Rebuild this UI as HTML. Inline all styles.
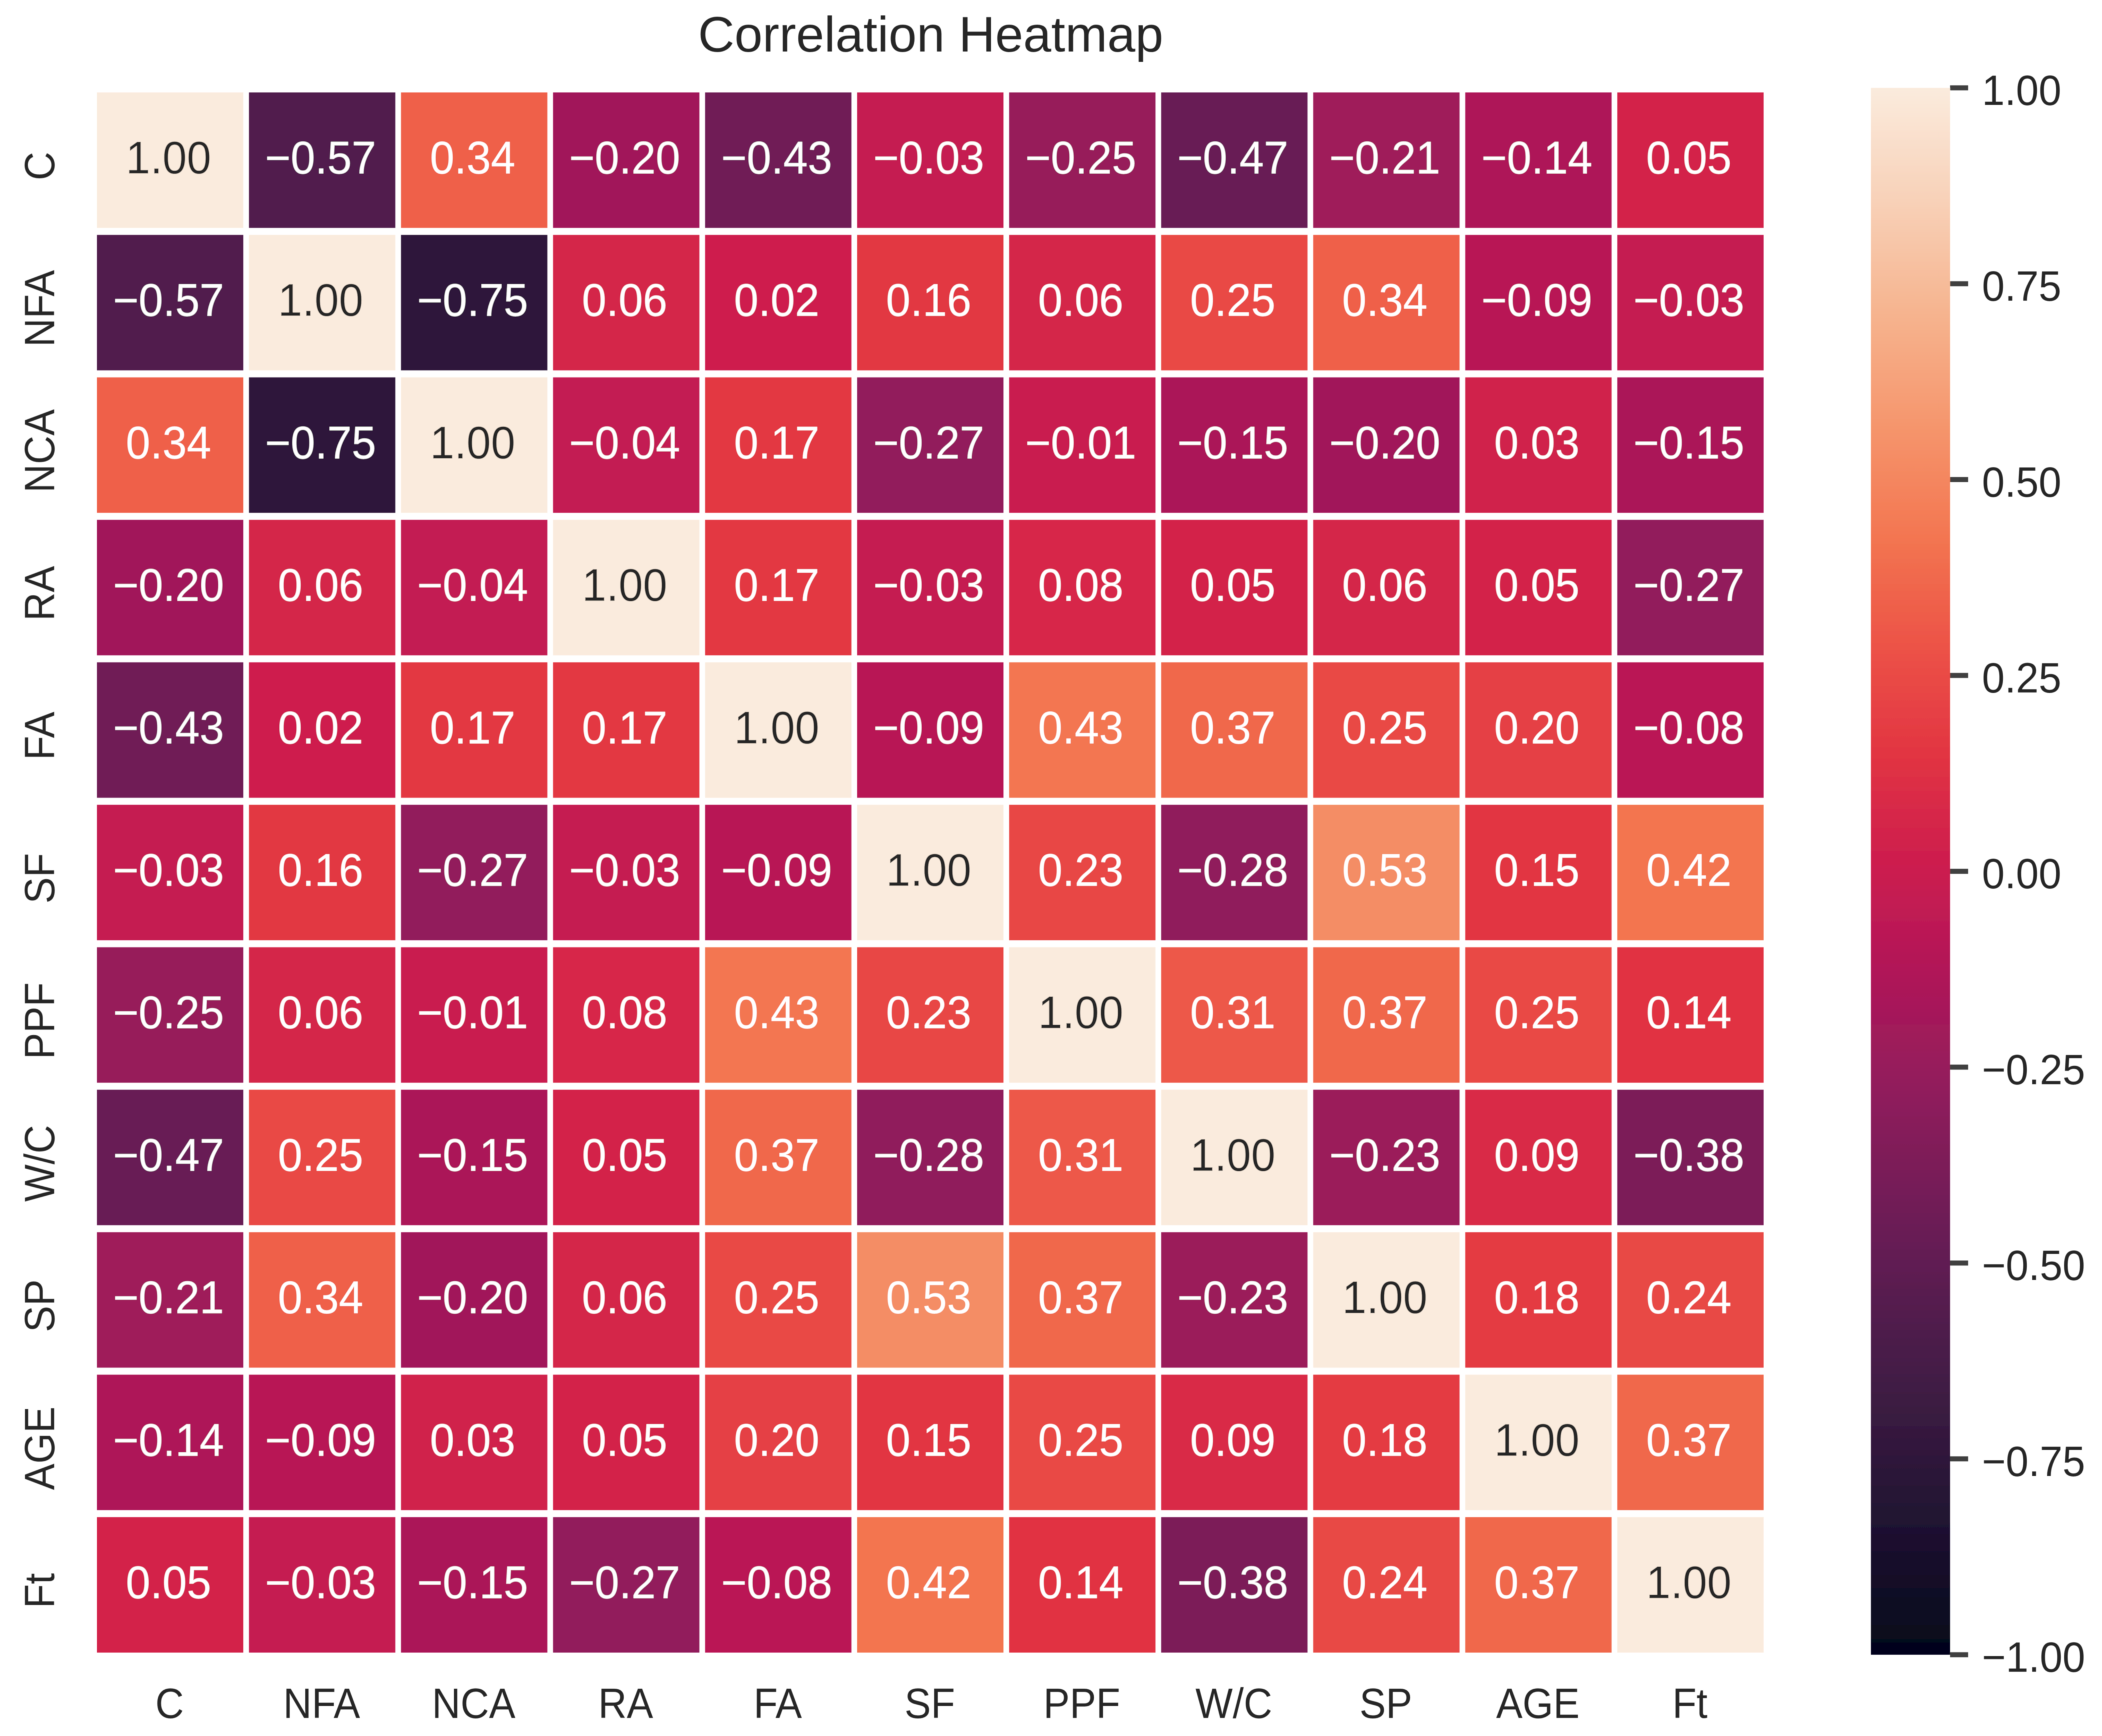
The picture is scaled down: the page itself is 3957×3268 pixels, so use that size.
<!DOCTYPE html>
<html lang="en">
<head>
<meta charset="utf-8">
<title>Correlation Heatmap</title>
<style>
  html, body { margin: 0; padding: 0; background: #ffffff; }
  #chart { display: block; width: 3957px; height: 3268px; font-family: "Liberation Sans", Arial, sans-serif; }
</style>
</head>
<body>
<svg id="chart" xmlns="http://www.w3.org/2000/svg" width="3957" height="3268" viewBox="0 0 3957 3268">
  <defs>
    <linearGradient id="rocket-gradient" x1="0" y1="1" x2="0" y2="0"></linearGradient>
    <filter id="soft" x="-5%" y="-5%" width="110%" height="110%"><feGaussianBlur stdDeviation="0.9"></feGaussianBlur></filter>
  </defs>
  <rect x="0" y="0" width="3957" height="3268" fill="#ffffff"></rect>
  <text x="0" y="0" transform="translate(1752 97) scale(1.01 1)" font-size="94" fill="#262626" text-anchor="middle" filter="url(#soft)">Correlation Heatmap</text>
  <g id="cells" filter="url(#soft)"></g>
  <g id="x-axis" filter="url(#soft)"></g>
  <g id="y-axis" filter="url(#soft)"></g>
  <g id="colorbar" filter="url(#soft)"></g>
</svg>
<script>
const categories = ["C", "NFA", "NCA", "RA", "FA", "SF", "PPF", "W/C", "SP", "AGE", "Ft"];
const rowC   = [1.00, -0.57, 0.34, -0.20, -0.43, -0.03, -0.25, -0.47, -0.21, -0.14, 0.05];
const rowNFA = [-0.57, 1.00, -0.75, 0.06, 0.02, 0.16, 0.06, 0.25, 0.34, -0.09, -0.03];
const rowNCA = [0.34, -0.75, 1.00, -0.04, 0.17, -0.27, -0.01, -0.15, -0.20, 0.03, -0.15];
const rowRA  = [-0.20, 0.06, -0.04, 1.00, 0.17, -0.03, 0.08, 0.05, 0.06, 0.05, -0.27];
const rowFA  = [-0.43, 0.02, 0.17, 0.17, 1.00, -0.09, 0.43, 0.37, 0.25, 0.20, -0.08];
const rowSF  = [-0.03, 0.16, -0.27, -0.03, -0.09, 1.00, 0.23, -0.28, 0.53, 0.15, 0.42];
const rowPPF = [-0.25, 0.06, -0.01, 0.08, 0.43, 0.23, 1.00, 0.31, 0.37, 0.25, 0.14];
const rowWC  = [-0.47, 0.25, -0.15, 0.05, 0.37, -0.28, 0.31, 1.00, -0.23, 0.09, -0.38];
const rowSP  = [-0.21, 0.34, -0.20, 0.06, 0.25, 0.53, 0.37, -0.23, 1.00, 0.18, 0.24];
const rowAGE = [-0.14, -0.09, 0.03, 0.05, 0.20, 0.15, 0.25, 0.09, 0.18, 1.00, 0.37];
const rowFt  = [0.05, -0.03, -0.15, -0.27, -0.08, 0.42, 0.14, -0.38, 0.24, 0.37, 1.00];
const matrix = [rowC, rowNFA, rowNCA, rowRA, rowFA, rowSF, rowPPF, rowWC, rowSP, rowAGE, rowFt];
const colorbarTicks = [1.00, 0.75, 0.50, 0.25, 0.00, -0.25, -0.50, -0.75, -1.00];

const NS = "http://www.w3.org/2000/svg";
const PLOT = { left: 182.5, top: 174, pitchX: 286.2, pitchY: 268.2, cellW: 275.5, cellH: 255 };
const BAR = { left: 3522, right: 3671, top: 165.4, bottom: 3115, min: -1, max: 1 };

const ROCKET_POS = [0, 0.0714, 0.1429, 0.2143, 0.2857, 0.3571, 0.4286, 0.5, 0.5714, 0.6429, 0.7143, 0.7857, 0.8571, 0.9286, 1];
const ROCKET_HEX = ["#03051a", "#1b102e", "#35193e", "#511e4d", "#701f57", "#8f1d5b", "#ad1759", "#cb1b4f", "#e13342", "#ec5246", "#f37651", "#f5966d", "#f6b48f", "#f8d1b8", "#faebdd"];

function hexToRgb(h) {
  return [parseInt(h.slice(1, 3), 16), parseInt(h.slice(3, 5), 16), parseInt(h.slice(5, 7), 16)];
}
function colorAt(value) {
  const t = Math.max(0, Math.min(1, (value - BAR.min) / (BAR.max - BAR.min)));
  let k = 0;
  while (k < ROCKET_POS.length - 2 && t > ROCKET_POS[k + 1]) k++;
  const f = (t - ROCKET_POS[k]) / (ROCKET_POS[k + 1] - ROCKET_POS[k]);
  const a = hexToRgb(ROCKET_HEX[k]);
  const b = hexToRgb(ROCKET_HEX[k + 1]);
  return [0, 1, 2].map(function (n) { return Math.round(a[n] + (b[n] - a[n]) * f); });
}
function luminance(rgb) {
  const c = rgb.map(function (v) {
    const s = v / 255;
    return s <= 0.03928 ? s / 12.92 : Math.pow((s + 0.055) / 1.055, 2.4);
  });
  return 0.2126 * c[0] + 0.7152 * c[1] + 0.0722 * c[2];
}
function fmt(v) {
  const s = Math.abs(v).toFixed(2);
  return v < 0 ? "\u2212" + s : s;
}
function xScale(i) { return PLOT.left + PLOT.pitchX * i; }
function yScale(i) { return PLOT.top + PLOT.pitchY * i; }
function barY(v) { return BAR.bottom - (v - BAR.min) / (BAR.max - BAR.min) * (BAR.bottom - BAR.top); }
function make(tag, attrs, parent, txt) {
  const el = document.createElementNS(NS, tag);
  Object.keys(attrs).forEach(function (k) { el.setAttribute(k, attrs[k]); });
  if (txt !== undefined) el.textContent = txt;
  parent.appendChild(el);
  return el;
}

const cellsG = document.getElementById("cells");
matrix.forEach(function (row, r) {
  row.forEach(function (value, c) {
    const rgb = colorAt(value);
    const rect = make("rect", { x: xScale(c), y: yScale(r), width: PLOT.cellW, height: PLOT.cellH, fill: "rgb(" + rgb.join(",") + ")" }, cellsG);
    
    
    const cx = xScale(c) + PLOT.cellW / 2 - 3;
    const cy = yScale(r) + PLOT.cellH / 2 + 25;
    const label = make("text", {
      x: 0,
      y: 0,
      transform: "translate(" + cx + " " + cy + ") scale(0.96 1)",
      "font-size": 86,
      "text-anchor": "middle",
      fill: luminance(rgb) < 0.408 ? "#ffffff" : "#262626"
    }, cellsG, fmt(value));
    
    
  });
});

const xAxisG = document.getElementById("x-axis");
categories.forEach(function (name, i) {
  const cx = xScale(i) + PLOT.cellW / 2 - 1;
  const t = make("text", { x: 0, y: 0, transform: "translate(" + cx + " 3234) scale(0.93 1)", "font-size": 80, "text-anchor": "middle", fill: "#262626" }, xAxisG, name);
  
  
});

const yAxisG = document.getElementById("y-axis");
categories.forEach(function (name, i) {
  const cy = yScale(i) + PLOT.cellH / 2 + 11;
  const t = make("text", { x: 0, y: 0, transform: "translate(102 " + cy + ") rotate(-90) scale(0.93 1)", "font-size": 80, "text-anchor": "middle", fill: "#262626" }, yAxisG, name);
  
  
});

const grad = document.getElementById("rocket-gradient");
ROCKET_POS.forEach(function (p, i) {
  make("stop", { offset: p, "stop-color": ROCKET_HEX[i] }, grad);
});
const barG = document.getElementById("colorbar");
const barRect = make("rect", { x: BAR.left, y: BAR.top, width: BAR.right - BAR.left, height: BAR.bottom - BAR.top, fill: "url(#rocket-gradient)" }, barG);


colorbarTicks.forEach(function (v) {
  const y = barY(v);
  const tick = make("line", { x1: BAR.right, x2: BAR.right + 34, y1: y, y2: y, stroke: "#404040", "stroke-width": 9.5 }, barG);
  
  
  const label = make("text", { x: 0, y: 0, transform: "translate(3731 " + (y + 32) + ") scale(0.96 1)", "font-size": 80, fill: "#262626" }, barG, fmt(v));
  
  
});
</script>
</body>
</html>
